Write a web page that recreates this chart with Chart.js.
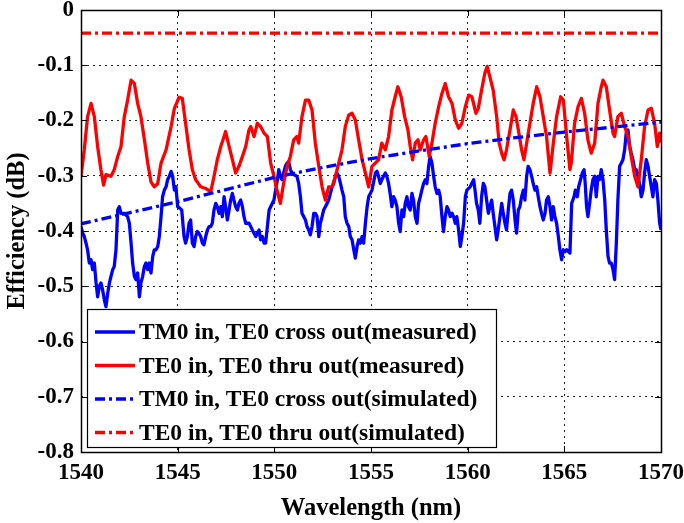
<!DOCTYPE html>
<html>
<head>
<meta charset="utf-8">
<script src="https://cdn.jsdelivr.net/npm/chart.js@4/dist/chart.umd.min.js"></script>
<style>
  html, body { margin: 0; padding: 0; background: #fff; }
  #wrap { width: 684px; height: 523px; }
</style>
</head>
<body>
<div id="wrap"><canvas id="c" width="684" height="523"></canvas></div>
<script>
// Axis ticks
const xTicks = [1540, 1545, 1550, 1555, 1560, 1565, 1570];
const yTicks = [-0.8, -0.7, -0.6, -0.5, -0.4, -0.3, -0.2, -0.1, 0];
const yTickLabels = ['-0.8', '-0.7', '-0.6', '-0.5', '-0.4', '-0.3', '-0.2', '-0.1', '0'];

// Series labels
const seriesLabels = [
  'TM0 in, TE0 cross out(measured)',
  'TE0 in, TE0 thru out(measured)',
  'TM0 in, TE0 cross out(simulated)',
  'TE0 in, TE0 thru out(simulated)'
];

// [wavelength (nm), efficiency (dB)]
const tmCrossMeasured = [
  [1540.00,-0.392],[1540.09,-0.404],[1540.17,-0.410],[1540.26,-0.422],[1540.34,-0.434],[1540.43,-0.458],
  [1540.52,-0.452],[1540.60,-0.470],[1540.69,-0.458],[1540.78,-0.494],[1540.86,-0.519],[1540.95,-0.500],
  [1541.03,-0.494],[1541.12,-0.507],[1541.21,-0.525],[1541.29,-0.537],[1541.38,-0.513],[1541.47,-0.494],
  [1541.55,-0.482],[1541.64,-0.470],[1541.72,-0.464],[1541.81,-0.434],[1541.90,-0.362],[1541.98,-0.356],
  [1542.07,-0.368],[1542.24,-0.368],[1542.41,-0.374],[1542.50,-0.386],[1542.59,-0.422],[1542.67,-0.458],
  [1542.76,-0.482],[1542.84,-0.488],[1542.93,-0.476],[1543.02,-0.519],[1543.10,-0.494],[1543.19,-0.482],
  [1543.28,-0.464],[1543.36,-0.458],[1543.45,-0.470],[1543.53,-0.458],[1543.62,-0.476],[1543.71,-0.446],
  [1543.79,-0.434],[1543.88,-0.434],[1543.97,-0.428],[1544.05,-0.410],[1544.14,-0.374],[1544.22,-0.338],
  [1544.31,-0.326],[1544.40,-0.320],[1544.48,-0.307],[1544.57,-0.301],[1544.66,-0.292],[1544.74,-0.301],
  [1544.83,-0.326],[1544.91,-0.320],[1545.00,-0.356],[1545.12,-0.359],
  [1545.21,-0.362],[1545.33,-0.410],[1545.41,-0.422],[1545.50,-0.410],[1545.59,-0.386],[1545.67,-0.380],
  [1545.76,-0.422],[1545.85,-0.428],[1545.93,-0.410],[1546.02,-0.401],[1546.10,-0.404],[1546.19,-0.410],
  [1546.28,-0.422],[1546.36,-0.425],[1546.45,-0.410],[1546.54,-0.398],[1546.62,-0.392],[1546.71,-0.392],
  [1546.79,-0.386],[1546.88,-0.362],[1546.97,-0.350],[1547.05,-0.356],[1547.14,-0.368],[1547.23,-0.356],
  [1547.31,-0.374],[1547.40,-0.338],[1547.48,-0.356],[1547.57,-0.380],[1547.66,-0.362],[1547.74,-0.344],
  [1547.83,-0.332],[1547.91,-0.344],[1548.00,-0.356],[1548.09,-0.362],[1548.17,-0.350],[1548.26,-0.344],
  [1548.35,-0.356],[1548.43,-0.374],[1548.52,-0.386],[1548.69,-0.386],[1548.78,-0.392],[1548.86,-0.398],
  [1549.04,-0.410],[1549.12,-0.404],[1549.21,-0.398],[1549.29,-0.416],[1549.38,-0.410],[1549.47,-0.422],
  [1549.55,-0.422],[1549.64,-0.392],[1549.73,-0.362],[1549.81,-0.356],[1549.98,-0.344],[1550.16,-0.307],
  [1550.23,-0.289],[1550.31,-0.301],[1550.40,-0.307],[1550.48,-0.295],[1550.57,-0.283],[1550.66,-0.277],
  [1550.74,-0.274],[1550.83,-0.289],[1550.92,-0.295],[1551.00,-0.298],[1551.17,-0.301],[1551.26,-0.314],
  [1551.35,-0.338],[1551.43,-0.368],[1551.52,-0.374],[1551.61,-0.380],[1551.69,-0.392],[1551.78,-0.398],
  [1551.86,-0.407],[1551.95,-0.392],[1552.04,-0.368],[1552.12,-0.368],[1552.21,-0.374],[1552.30,-0.410],
  [1552.38,-0.386],[1552.47,-0.374],[1552.55,-0.362],[1552.64,-0.356],[1552.73,-0.350],[1552.81,-0.344],
  [1552.90,-0.332],[1552.99,-0.320],[1553.07,-0.314],[1553.16,-0.301],[1553.24,-0.295],[1553.33,-0.301],
  [1553.42,-0.314],[1553.50,-0.326],[1553.59,-0.338],[1553.67,-0.374],[1553.76,-0.386],[1553.85,-0.392],
  [1553.93,-0.410],[1554.02,-0.416],[1554.11,-0.434],[1554.19,-0.449],[1554.28,-0.428],[1554.36,-0.416],
  [1554.45,-0.422],[1554.54,-0.410],[1554.62,-0.422],[1554.71,-0.386],[1554.80,-0.356],[1554.88,-0.338],
  [1555.05,-0.326],[1555.23,-0.295],
  [1555.31,-0.292],[1555.39,-0.301],[1555.48,-0.314],[1555.56,-0.307],[1555.65,-0.301],[1555.74,-0.295],
  [1555.82,-0.301],[1555.91,-0.314],[1555.99,-0.332],[1556.08,-0.356],[1556.17,-0.338],[1556.25,-0.344],
  [1556.34,-0.356],[1556.43,-0.386],[1556.51,-0.401],[1556.60,-0.362],[1556.69,-0.374],[1556.77,-0.350],
  [1556.86,-0.338],[1556.94,-0.356],[1557.03,-0.362],[1557.12,-0.332],[1557.20,-0.344],[1557.29,-0.374],
  [1557.38,-0.386],[1557.46,-0.350],[1557.55,-0.338],[1557.63,-0.326],[1557.72,-0.314],[1557.81,-0.307],
  [1557.89,-0.314],[1557.98,-0.283],[1558.06,-0.265],[1558.15,-0.277],[1558.24,-0.301],[1558.32,-0.320],
  [1558.41,-0.332],[1558.50,-0.326],[1558.58,-0.338],[1558.67,-0.374],[1558.75,-0.401],[1558.84,-0.374],
  [1558.93,-0.356],[1559.01,-0.362],[1559.10,-0.374],[1559.19,-0.368],[1559.27,-0.374],[1559.36,-0.386],
  [1559.44,-0.374],[1559.53,-0.398],[1559.62,-0.428],[1559.70,-0.410],[1559.79,-0.386],[1559.88,-0.338],
  [1559.96,-0.326],[1560.13,-0.320],[1560.31,-0.307],
  [1560.38,-0.326],[1560.46,-0.350],[1560.55,-0.362],[1560.63,-0.386],[1560.72,-0.338],[1560.81,-0.314],
  [1560.89,-0.320],[1560.98,-0.344],[1561.07,-0.368],[1561.15,-0.356],[1561.24,-0.344],[1561.32,-0.368],
  [1561.41,-0.392],[1561.50,-0.416],[1561.58,-0.398],[1561.67,-0.374],[1561.76,-0.350],[1561.84,-0.368],
  [1561.93,-0.386],[1562.01,-0.398],[1562.10,-0.362],[1562.19,-0.332],[1562.27,-0.326],[1562.36,-0.344],
  [1562.45,-0.380],[1562.53,-0.404],[1562.62,-0.362],[1562.70,-0.356],[1562.79,-0.338],[1562.88,-0.326],
  [1562.96,-0.344],[1563.05,-0.301],[1563.13,-0.283],[1563.22,-0.289],[1563.31,-0.301],[1563.39,-0.314],
  [1563.48,-0.326],[1563.57,-0.320],[1563.65,-0.338],[1563.74,-0.356],[1563.82,-0.368],[1563.91,-0.380],
  [1564.00,-0.368],[1564.08,-0.344],[1564.17,-0.338],[1564.26,-0.356],[1564.34,-0.380],[1564.43,-0.356],
  [1564.51,-0.374],[1564.60,-0.386],[1564.69,-0.410],[1564.77,-0.434],[1564.86,-0.452],[1564.95,-0.434],
  [1565.03,-0.437],[1565.12,-0.434],[1565.29,-0.440],[1565.38,-0.350],
  [1565.50,-0.338],[1565.57,-0.326],[1565.67,-0.338],[1565.74,-0.320],[1565.84,-0.307],[1565.93,-0.295],
  [1566.02,-0.289],[1566.08,-0.314],[1566.15,-0.356],[1566.22,-0.374],[1566.31,-0.350],[1566.39,-0.326],
  [1566.48,-0.307],[1566.57,-0.301],[1566.65,-0.338],[1566.74,-0.301],[1566.83,-0.307],[1566.91,-0.289],
  [1567.00,-0.307],[1567.09,-0.344],[1567.17,-0.398],[1567.26,-0.446],[1567.34,-0.458],[1567.43,-0.458],
  [1567.52,-0.470],[1567.60,-0.488],[1567.69,-0.422],[1567.77,-0.344],[1567.86,-0.283],[1567.95,-0.277],
  [1568.03,-0.271],[1568.12,-0.253],[1568.20,-0.223],[1568.29,-0.217],[1568.38,-0.247],[1568.46,-0.259],
  [1568.55,-0.271],[1568.64,-0.289],[1568.72,-0.289],[1568.81,-0.301],[1568.89,-0.314],[1568.98,-0.338],
  [1569.07,-0.326],[1569.15,-0.295],[1569.24,-0.271],[1569.33,-0.283],[1569.41,-0.301],[1569.50,-0.320],
  [1569.58,-0.338],[1569.67,-0.307],[1569.76,-0.314],[1569.84,-0.344],[1569.93,-0.386],[1570.00,-0.398]
];

const teThruMeasured = [
  [1540.00,-0.301],[1540.17,-0.253],[1540.34,-0.193],[1540.52,-0.169],[1540.69,-0.193],[1540.86,-0.247],
  [1541.03,-0.289],[1541.17,-0.317],[1541.29,-0.298],[1541.55,-0.301],[1541.72,-0.289],[1541.90,-0.265],
  [1542.07,-0.247],[1542.24,-0.193],[1542.41,-0.163],[1542.59,-0.127],[1542.76,-0.133],[1542.93,-0.169],
  [1543.10,-0.193],[1543.28,-0.235],[1543.45,-0.277],[1543.62,-0.311],[1543.79,-0.320],[1543.97,-0.314],
  [1544.14,-0.277],[1544.40,-0.253],[1544.66,-0.211],[1544.83,-0.178],[1545.07,-0.158],
  [1545.24,-0.160],[1545.41,-0.205],[1545.59,-0.253],[1545.76,-0.289],[1545.93,-0.307],[1546.19,-0.320],
  [1546.45,-0.323],[1546.71,-0.329],[1546.88,-0.301],[1547.05,-0.271],[1547.23,-0.247],[1547.40,-0.229],
  [1547.48,-0.220],[1547.66,-0.247],[1547.83,-0.271],[1548.00,-0.295],[1548.17,-0.283],[1548.35,-0.265],
  [1548.52,-0.247],[1548.69,-0.217],[1548.78,-0.211],[1548.95,-0.229],[1549.12,-0.205],[1549.29,-0.211],
  [1549.47,-0.223],[1549.64,-0.229],[1549.81,-0.277],[1549.98,-0.301],
  [1550.14,-0.326],[1550.31,-0.350],[1550.48,-0.314],[1550.66,-0.283],[1550.83,-0.265],[1551.00,-0.235],
  [1551.17,-0.229],[1551.26,-0.241],[1551.43,-0.193],[1551.61,-0.163],[1551.78,-0.163],[1551.95,-0.181],
  [1552.12,-0.241],[1552.30,-0.283],[1552.47,-0.320],[1552.64,-0.344],[1552.81,-0.320],[1552.99,-0.320],
  [1553.16,-0.301],[1553.33,-0.277],[1553.50,-0.253],[1553.67,-0.211],[1553.85,-0.190],[1554.02,-0.187],
  [1554.19,-0.199],[1554.36,-0.235],[1554.54,-0.271],[1554.71,-0.295],[1554.88,-0.320],[1555.05,-0.283],
  [1555.22,-0.277],[1555.39,-0.271],[1555.56,-0.241],[1555.74,-0.253],[1555.91,-0.229],[1556.08,-0.181],
  [1556.25,-0.157],[1556.39,-0.139],[1556.56,-0.157],[1556.74,-0.193],[1556.91,-0.217],[1557.03,-0.247],
  [1557.15,-0.271],[1557.29,-0.241],[1557.43,-0.235],[1557.55,-0.253],[1557.72,-0.235],[1557.84,-0.229],
  [1558.01,-0.265],[1558.15,-0.241],[1558.32,-0.205],[1558.50,-0.175],[1558.67,-0.151],[1558.84,-0.133],
  [1559.01,-0.157],[1559.19,-0.169],[1559.36,-0.199],[1559.53,-0.214],[1559.70,-0.205],[1559.88,-0.175],
  [1560.05,-0.154],[1560.22,-0.157],
  [1560.43,-0.187],[1560.55,-0.178],[1560.72,-0.145],[1560.89,-0.114],[1561.01,-0.102],[1561.15,-0.121],
  [1561.32,-0.145],[1561.50,-0.193],[1561.63,-0.241],[1561.76,-0.259],[1561.88,-0.271],[1562.01,-0.253],
  [1562.19,-0.217],[1562.36,-0.181],[1562.50,-0.193],[1562.62,-0.217],[1562.79,-0.253],[1562.91,-0.271],
  [1563.05,-0.241],[1563.22,-0.205],[1563.39,-0.169],[1563.57,-0.139],[1563.74,-0.157],[1563.91,-0.193],
  [1564.08,-0.229],[1564.26,-0.295],[1564.43,-0.241],[1564.60,-0.193],[1564.81,-0.157],[1564.95,-0.163],
  [1565.12,-0.229],[1565.29,-0.289],
  [1565.36,-0.277],[1565.53,-0.205],[1565.71,-0.175],[1565.88,-0.160],[1566.05,-0.187],[1566.22,-0.235],
  [1566.39,-0.259],[1566.57,-0.241],[1566.74,-0.169],[1566.91,-0.139],[1567.00,-0.127],[1567.17,-0.139],
  [1567.34,-0.181],[1567.52,-0.223],[1567.60,-0.229],[1567.77,-0.193],[1567.95,-0.187],[1568.12,-0.211],
  [1568.29,-0.229],[1568.46,-0.265],[1568.64,-0.301],[1568.81,-0.320],[1568.98,-0.271],[1569.15,-0.211],
  [1569.33,-0.181],[1569.50,-0.178],[1569.67,-0.205],[1569.81,-0.247],[1569.93,-0.223],[1570.00,-0.240]
];

const tmCrossSimulated = [
  [1540,-0.387],[1542.5,-0.367],[1545,-0.347],[1547.5,-0.325],[1550,-0.303],[1552.5,-0.285],[1555,-0.269],
  [1557.5,-0.255],[1560,-0.242],[1562.5,-0.231],[1565,-0.221],[1567.5,-0.212],[1570,-0.203]
];

const teThruSimulated = [
  [1540,-0.042],[1545,-0.042],[1550,-0.042],[1555,-0.042],[1560,-0.042],[1565,-0.042],[1570,-0.042]
];

const FONT_FAMILY = '"Liberation Serif", "Times New Roman", serif';
const dashDot = [10, 4, 3, 4];

function toPoints(pairs) {
  return pairs.map(p => ({ x: p[0], y: p[1] }));
}

// Box frame with inward tick marks on all four sides, then the legend box
const framePlugin = {
  id: 'frameAndLegend',
  afterDraw(chart) {
    const ctx = chart.ctx;
    const a = chart.chartArea;
    const xs = chart.scales.x, ys = chart.scales.y;
    const tick = 6;
    ctx.save();
    ctx.strokeStyle = '#000';
    ctx.lineWidth = 1;
    ctx.setLineDash([]);
    ctx.beginPath();
    xTicks.forEach(v => {
      const px = Math.round(xs.getPixelForValue(v)) + 0.5;
      ctx.moveTo(px, a.bottom); ctx.lineTo(px, a.bottom - tick);
      ctx.moveTo(px, a.top); ctx.lineTo(px, a.top + tick);
    });
    yTicks.forEach(v => {
      const py = Math.round(ys.getPixelForValue(v)) + 0.5;
      ctx.moveTo(a.left, py); ctx.lineTo(a.left + tick, py);
      ctx.moveTo(a.right, py); ctx.lineTo(a.right - tick, py);
    });
    ctx.stroke();
    ctx.lineWidth = 1.5;
    ctx.strokeRect(Math.round(a.left) + 0.5, Math.round(a.top) + 0.5,
                   Math.round(a.right - a.left), Math.round(a.bottom - a.top));

    // legend
    const bx = 87.5, by = 309.5, bw = 409, bh = 138;
    ctx.fillStyle = '#fff';
    ctx.fillRect(bx, by, bw, bh);
    ctx.lineWidth = 1.2;
    ctx.strokeStyle = '#000';
    ctx.strokeRect(bx, by, bw, bh);
    ctx.font = 'bold 23.5px ' + FONT_FAMILY;
    ctx.textBaseline = 'middle';
    ctx.textAlign = 'left';
    chart.data.datasets.forEach((ds, i) => {
      const cy = by + 22.5 + i * 33.5;
      ctx.strokeStyle = ds.borderColor;
      ctx.lineWidth = ds.borderWidth;
      ctx.setLineDash(ds.borderDash || []);
      ctx.beginPath();
      ctx.moveTo(95, cy);
      ctx.lineTo(135, cy);
      ctx.stroke();
      ctx.setLineDash([]);
      ctx.fillStyle = '#000';
      ctx.fillText(ds.label, 139, cy + 1);
    });
    ctx.restore();
  }
};

new Chart(document.getElementById('c'), {
  type: 'line',
  data: {
    datasets: [
      { label: seriesLabels[0], data: toPoints(tmCrossMeasured), borderColor: '#0000ff', borderWidth: 3.3, order: 4 },
      { label: seriesLabels[1], data: toPoints(teThruMeasured), borderColor: '#ff0000', borderWidth: 3.3, order: 3 },
      { label: seriesLabels[2], data: toPoints(tmCrossSimulated), borderColor: '#0000ff', borderWidth: 3.3, borderDash: dashDot, order: 2 },
      { label: seriesLabels[3], data: toPoints(teThruSimulated), borderColor: '#ff0000', borderWidth: 3.3, borderDash: dashDot, order: 1 }
    ]
  },
  options: {
    responsive: false,
    animation: false,
    events: [],
    elements: { point: { radius: 0 }, line: { tension: 0, borderJoinStyle: 'round' } },
    layout: { padding: { top: 10, right: 23, left: 0, bottom: 0 } },
    plugins: { legend: { display: false }, tooltip: { enabled: false } },
    scales: {
      x: {
        type: 'linear',
        min: 1540, max: 1570,
        afterBuildTicks: s => { s.ticks = xTicks.map(v => ({ value: v })); },
        afterFit: s => { s.height = 71; s.paddingLeft = 0; s.paddingRight = 0; },
        grid: { color: '#222', lineWidth: 1, drawTicks: false },
        border: { display: false, dash: [2, 4] },
        ticks: {
          color: '#000', padding: 7, maxRotation: 0,
          font: { family: FONT_FAMILY, size: 23, weight: 'bold' },
          callback: v => String(v)
        },
        title: {
          display: true, text: 'Wavelength (nm)', color: '#000',
          padding: { top: 2, bottom: 0 },
          font: { family: FONT_FAMILY, size: 24.5, weight: 'bold' }
        }
      },
      y: {
        type: 'linear',
        min: -0.8, max: 0,
        afterBuildTicks: s => { s.ticks = yTicks.map(v => ({ value: v })); },
        afterFit: s => { s.width = 81; s.paddingTop = 0; s.paddingBottom = 0; },
        grid: { color: '#222', lineWidth: 1, drawTicks: false },
        border: { display: false, dash: [2, 4] },
        ticks: {
          color: '#000', padding: 7,
          font: { family: FONT_FAMILY, size: 23, weight: 'bold' },
          callback: (v, i) => yTickLabels[i]
        },
        title: {
          display: true, text: 'Efficiency (dB)', color: '#000',
          padding: { top: 3, bottom: 0 },
          font: { family: FONT_FAMILY, size: 24.5, weight: 'bold' }
        }
      }
    }
  },
  plugins: [framePlugin]
});
</script>
</body>
</html>
